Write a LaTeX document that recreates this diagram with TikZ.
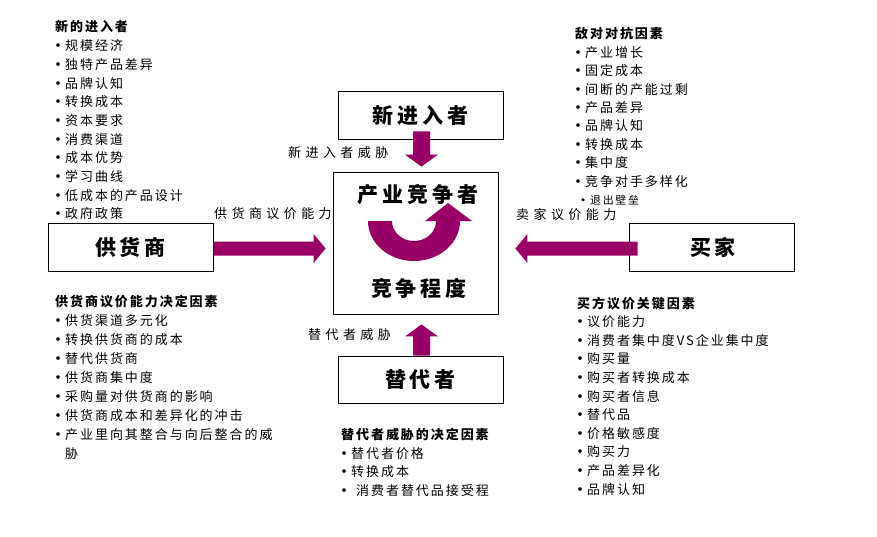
\documentclass[tikz,border=0pt]{standalone}
\usepackage{fontspec}
\setmainfont{Noto Sans CJK SC}
\newfontfamily\itemfont{Noto Sans CJK SC}[LetterSpace=15]
\newfontfamily\labfont{Noto Sans CJK SC}[LetterSpace=34]
\newfontfamily\bigfont{Noto Sans CJK SC}[LetterSpace=19]
\usetikzlibrary{calc}
\definecolor{purp}{RGB}{153,0,102}
\newcommand\mybul{\makebox[6pt]{\makebox[0pt]{\bfseries •}}\hspace*{4pt}}
\newcommand\blockarr[4]{%
  \coordinate (bh) at ($(#2)!12pt!(#1)$);
  \fill[purp] ($(#1)!#3!90:(#2)$) -- ($(bh)!#3!90:(#2)$) -- ($(bh)!#4!90:(#2)$) -- (#2)
    -- ($(bh)!#4!-90:(#2)$) -- ($(bh)!#3!-90:(#2)$) -- ($(#1)!#3!-90:(#2)$) -- cycle;}
\tikzset{
  box/.style={draw=black, line width=0.8pt, minimum width=165pt, inner sep=0pt,
    font=\bigfont\fontsize{21}{24}\selectfont\bfseries},
  bigtxt/.style={inner sep=0pt, font=\bigfont\fontsize{21}{24}\selectfont\bfseries},
  lab/.style={anchor=west, inner sep=0pt, font=\labfont\fontsize{13}{15}\selectfont},
  lst/.style={anchor=north west, align=left, inner sep=0pt},
}
\begin{document}
\begin{tikzpicture}[x=1pt,y=-1pt]
\useasboundingbox (0,0) rectangle (877,536);
% boxes
\node[box, minimum height=48pt] (newin) at (420.5,115) {\raisebox{-3pt}{新进入者}};
\node[box, minimum height=142pt] (core) at (415.5,243) {};
\node[box, minimum height=48pt] (supp) at (130.5,247) {供货商};
\node[box, minimum height=48pt] (buyer) at (711.5,247) {\hspace*{3pt}买家};
\node[box, minimum height=47pt] (subst) at (420.5,379.5) {替代者};
% texts in core
\node[bigtxt] (comp) at (418,195) {产业竞争者};
\node[bigtxt] (degree) at (419,288) {竞争程度};
% curved arrow
\fill[purp] (368,221) arc[start angle=180,end angle=360,x radius=46pt,y radius=40pt]
  -- (472,221) -- (448,203) -- (425,221) -- (436,221)
  arc[start angle=0,end angle=-180,x radius=22pt,y radius=20pt] -- cycle;
% block arrows
\coordinate (ta) at ($(newin.south)+(1,-8)$);
\coordinate (tb) at ($(newin.south |- core.north)+(1,-5)$);
\blockarr{ta}{tb}{8.5pt}{16.5pt}
\coordinate (ba) at ($(subst.north)+(1,0)$);
\coordinate (bb) at ($(subst.north |- core.south)+(1,10)$);
\blockarr{ba}{bb}{8.5pt}{16.5pt}
\coordinate (la) at ($(supp.east)+(0,1.5)$);
\coordinate (lb) at ($(supp.east -| core.west)+(-7,1.5)$);
\blockarr{la}{lb}{7pt}{14.5pt}
\coordinate (ra) at ($(buyer.west)+(9,1.5)$);
\coordinate (rb) at ($(buyer.west -| core.east)+(17,1.5)$);
\blockarr{ra}{rb}{7pt}{14.5pt}
% labels
\node[lab] (l1) at (288,153) {新进入者威胁};
\node[lab] (l2) at (214,214) {供货商议价能力};
\node[lab] (l3) at (516,215) {卖家议价能力};
\node[lab] (l4) at (308,335) {替代者威胁};
% lists
\node[lst, font=\itemfont\fontsize{13}{18.7}\selectfont] (tl) at (55,20.5) {%
\textbf{新的进入者}\\
\mybul 规模经济\\
\mybul 独特产品差异\\
\mybul 品牌认知\\
\mybul 转换成本\\
\mybul 资本要求\\
\mybul 消费渠道\\
\mybul 成本优势\\
\mybul 学习曲线\\
\mybul 低成本的产品设计\\
\mybul 政府政策};
\node[lst, font=\itemfont\fontsize{13}{18.4}\selectfont] (tr) at (575,27.5) {%
\textbf{敌对对抗因素}\\
\mybul 产业增长\\
\mybul 固定成本\\
\mybul 间断的产能过剩\\
\mybul 产品差异\\
\mybul 品牌认知\\
\mybul 转换成本\\
\mybul 集中度\\
\mybul 竞争对手多样化\\
{\fontsize{11}{18.4}\selectfont\hspace*{5pt}\mybul 退出壁垒}};
\node[lst, font=\itemfont\fontsize{13}{18.95}\selectfont] (bl) at (55,295.5) {%
\textbf{供货商议价能力决定因素}\\
\mybul 供货渠道多元化\\
\mybul 转换供货商的成本\\
\mybul 替代供货商\\
\mybul 供货商集中度\\
\mybul 采购量对供货商的影响\\
\mybul 供货商成本和差异化的冲击\\
\mybul 产业里向其整合与向后整合的威\\
\hspace*{10pt}胁};
\node[lst, font=\itemfont\fontsize{13}{18.7}\selectfont] (bm) at (341,428) {%
\textbf{替代者威胁的决定因素}\\
\mybul 替代者价格\\
\mybul 转换成本\\
\mybul\hspace*{5pt}消费者替代品接受程};
\node[lst, font=\itemfont\fontsize{13}{18.6}\selectfont] (br) at (577,296.5) {%
\textbf{买方议价关键因素}\\
\mybul 议价能力\\
\mybul 消费者集中度VS企业集中度\\
\mybul 购买量\\
\mybul 购买者转换成本\\
\mybul 购买者信息\\
\mybul 替代品\\
\mybul 价格敏感度\\
\mybul 购买力\\
\mybul 产品差异化\\
\mybul 品牌认知};
\end{tikzpicture}
\end{document}
